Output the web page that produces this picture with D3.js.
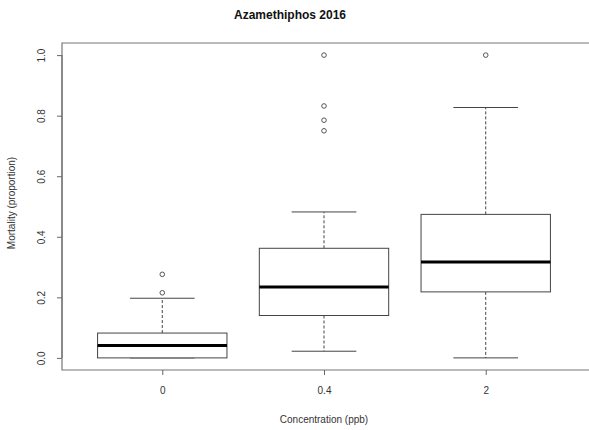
<!DOCTYPE html>
<html>
<head>
<meta charset="utf-8">
<script src="https://cdn.jsdelivr.net/npm/d3@7"></script>
<style>
  body { margin: 0; background: #fff; }
  svg text { font-family: "Liberation Sans", Arial, sans-serif; fill: #333; }
</style>
</head>
<body>
<svg class="plot"></svg>
<script>
// Box summaries
const groups = ["0", "0.4", "2"]
const whiskerLow = [0.0, 0.022, 0.0]
const q1 = [0.0, 0.140, 0.218]
const medians = [0.041, 0.234, 0.317]
const q3 = [0.082, 0.362, 0.474]
const whiskerHigh = [0.197, 0.482, 0.827]
const outliers = [[0.215, 0.276], [0.750, 0.785, 0.832, 1.0], [1.0]]
const yTicks = [0, 0.2, 0.4, 0.6, 0.8, 1.0]

const W = 589, H = 430
const svg = d3.select(".plot").attr("width", W).attr("height", H)

// R style scales: positions 1..3 with 4% padding
const xScale = d3.scaleLinear().domain([0.38, 3.62]).range([62, 586])
const yScale = d3.scaleLinear().domain([-0.04, 1.04]).range([370, 43])
const boxW = xScale(1.8) - xScale(1)   // boxwex 0.8
const capW = boxW / 2                   // staplewex 0.5
const lineCol = "#444"

// Frame (right side is cropped off in the reference)
svg.append("path")
  .attr("d", `M${W + 5},${yScale(1.04)}H${xScale(0.38)}V${yScale(-0.04)}H${W + 5}`)
  .attr("fill", "none").attr("stroke", "#777").attr("stroke-width", 1.2)

// Y axis
const yAxis = svg.append("g").attr("transform", `translate(${xScale(0.38)},0)`)
  .call(d3.axisLeft(yScale).tickValues(yTicks).tickSize(5).tickFormat(d3.format(".1f")))
yAxis.select(".domain").attr("d", `M0,${yScale(0)}V${yScale(1)}`).attr("stroke", "#666")
yAxis.selectAll(".tick line").attr("stroke", "#666")
yAxis.selectAll(".tick text")
  .attr("x", null).attr("dy", null)
  .attr("transform", "translate(-21,0) rotate(-90)")
  .attr("text-anchor", "middle").attr("dominant-baseline", "central")
  .attr("font-size", 10).attr("fill", "#444")

// X axis
const xAxis = svg.append("g").attr("transform", `translate(0,${yScale(-0.04)})`)
  .call(d3.axisBottom(xScale).tickValues([1, 2, 3]).tickSize(5).tickFormat((d, i) => groups[i]))
xAxis.select(".domain").remove()
xAxis.selectAll(".tick line").attr("stroke", "#666")
xAxis.selectAll(".tick text").attr("y", 17).attr("font-size", 10).attr("fill", "#444")

// Boxes
const data = groups.map((g, i) => ({
  pos: i + 1, lo: whiskerLow[i], q1: q1[i], med: medians[i], q3: q3[i], hi: whiskerHigh[i], out: outliers[i]
}))

const box = svg.selectAll(".box").data(data).join("g").attr("class", "box")

box.append("line").attr("class", "whisker")
  .attr("x1", d => xScale(d.pos)).attr("x2", d => xScale(d.pos))
  .attr("y1", d => yScale(d.q3)).attr("y2", d => yScale(d.hi))
  .attr("stroke", lineCol).attr("stroke-dasharray", "3,2")
box.append("line").attr("class", "whisker")
  .attr("x1", d => xScale(d.pos)).attr("x2", d => xScale(d.pos))
  .attr("y1", d => yScale(d.q1)).attr("y2", d => yScale(d.lo))
  .attr("stroke", lineCol).attr("stroke-dasharray", "3,2")

box.selectAll(".cap").data(d => [d.lo, d.hi].map(v => ({ pos: d.pos, v })))
  .join("line").attr("class", "cap")
  .attr("x1", d => xScale(d.pos) - capW / 2).attr("x2", d => xScale(d.pos) + capW / 2)
  .attr("y1", d => yScale(d.v)).attr("y2", d => yScale(d.v))
  .attr("stroke", lineCol)

box.append("rect")
  .attr("x", d => xScale(d.pos) - boxW / 2).attr("width", boxW)
  .attr("y", d => yScale(d.q3)).attr("height", d => yScale(d.q1) - yScale(d.q3))
  .attr("fill", "#fff").attr("stroke", lineCol)

box.append("line")
  .attr("x1", d => xScale(d.pos) - boxW / 2).attr("x2", d => xScale(d.pos) + boxW / 2)
  .attr("y1", d => yScale(d.med)).attr("y2", d => yScale(d.med))
  .attr("stroke", "#000").attr("stroke-width", 3)

box.selectAll(".outlier").data(d => d.out.map(v => ({ pos: d.pos, v })))
  .join("circle").attr("class", "outlier")
  .attr("cx", d => xScale(d.pos)).attr("cy", d => yScale(d.v)).attr("r", 2.3)
  .attr("fill", "none").attr("stroke", "#555")

// Titles
svg.append("text").attr("x", 290).attr("y", 19).attr("text-anchor", "middle")
  .attr("font-size", 12).attr("font-weight", "bold").style("fill", "#111")
  .text("Azamethiphos 2016")
svg.append("text").attr("x", 324).attr("y", 423).attr("text-anchor", "middle")
  .attr("font-size", 10).text("Concentration (ppb)")
svg.append("text").attr("transform", "translate(15,203) rotate(-90)").attr("text-anchor", "middle")
  .attr("font-size", 10).text("Mortality (proportion)")
</script>
</body>
</html>
